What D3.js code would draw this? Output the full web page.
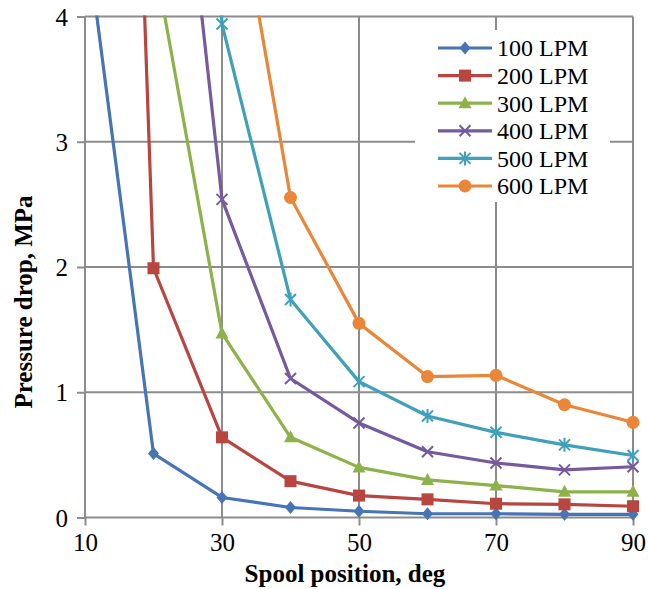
<!DOCTYPE html>
<html>
<head>
<meta charset="utf-8">
<script src="https://cdn.jsdelivr.net/npm/d3@7"></script>
<style>
  body { margin: 0; background: #fff; }
  svg text { font-family: "Liberation Serif", "DejaVu Serif", serif; fill: #000; }
</style>
</head>
<body>
<div id="chart"></div>
<script>
// Spool position (deg) and pressure drop (MPa) per flow rate
const positions = [10, 20, 30, 40, 50, 60, 70, 80, 90];
const seriesNames = ['100 LPM', '200 LPM', '300 LPM', '400 LPM', '500 LPM', '600 LPM'];
const lpm100 = [4.73, 0.51, 0.16, 0.08, 0.05, 0.03, 0.03, 0.025, 0.025];
const lpm200 = [17.6, 1.99, 0.64, 0.29, 0.175, 0.145, 0.11, 0.105, 0.09];
const lpm300 = [null, 4.5, 1.47, 0.64, 0.40, 0.30, 0.255, 0.205, 0.205];
const lpm400 = [null, 7.5, 2.54, 1.11, 0.755, 0.525, 0.435, 0.38, 0.405];
const lpm500 = [null, 14, 3.94, 1.74, 1.085, 0.81, 0.68, 0.58, 0.495];
const lpm600 = [null, null, 5.7, 2.555, 1.55, 1.125, 1.135, 0.90, 0.76];
const xTicks = [10, 30, 50, 70, 90];
const yTicks = [0, 1, 2, 3, 4];

const allSeries = [lpm100, lpm200, lpm300, lpm400, lpm500, lpm600];
const colors = ['#4674B4', '#B8453F', '#8DB24A', '#76599E', '#3FA0BA', '#EA8638'];
const shapes = ['diamond', 'square', 'triangle', 'cross', 'star', 'circle'];

const W = 648, H = 589;
const margin = { left: 85, right: 15, top: 16.5, bottom: 71.5 };

const svg = d3.select('#chart').append('svg')
    .attr('width', W).attr('height', H);

const x = d3.scaleLinear().domain([10, 90]).range([margin.left, W - margin.right]);
const y = d3.scaleLinear().domain([0, 4]).range([H - margin.bottom, margin.top]);

svg.append('clipPath').attr('id', 'plot-clip')
    .append('rect')
    .attr('x', margin.left - 8).attr('y', margin.top - 1)
    .attr('width', W - margin.left - margin.right + 16)
    .attr('height', H - margin.top - margin.bottom + 10);

// Gridlines
const grid = svg.append('g').attr('stroke', '#8c8c8c').attr('stroke-width', 2);
grid.selectAll('.hg').data(yTicks.filter(d => d > 0)).join('line')
    .attr('x1', x(10)).attr('x2', x(90))
    .attr('y1', d => y(d)).attr('y2', d => y(d));
grid.selectAll('.vg').data(xTicks.filter(d => d > 10)).join('line')
    .attr('x1', d => x(d)).attr('x2', d => x(d))
    .attr('y1', y(0)).attr('y2', y(4));

// Axes
const xAxis = svg.append('g')
    .attr('transform', `translate(0,${y(0)})`)
    .call(d3.axisBottom(x).tickValues(xTicks).tickFormat(d3.format('d')).tickSize(8).tickPadding(8));
const yAxis = svg.append('g')
    .attr('transform', `translate(${x(10)},0)`)
    .call(d3.axisLeft(y).tickValues(yTicks).tickFormat(d3.format('d')).tickSize(8).tickPadding(9));
[xAxis, yAxis].forEach(a => {
    a.selectAll('path, line').attr('stroke', '#8c8c8c').attr('stroke-width', 2);
    a.select('.domain').attr('d', a === xAxis
        ? `M${x(10)},0H${x(90)}`
        : `M0,${y(0)}V${y(4)}`);
    a.selectAll('text').attr('font-size', '25px')
        .attr('font-family', '"Liberation Serif", serif').attr('fill', '#000');
});
yAxis.selectAll('text').attr('dy', '0.34em');

// Axis titles
svg.append('text')
    .attr('x', 345).attr('y', 582)
    .attr('text-anchor', 'middle')
    .attr('font-size', '25px').attr('font-weight', 'bold')
    .text('Spool position, deg');
svg.append('text')
    .attr('transform', 'translate(32,302) rotate(-90)')
    .attr('text-anchor', 'middle')
    .attr('font-size', '25px').attr('font-weight', 'bold')
    .text('Pressure drop, MPa');

function drawMarker(g, shape, color) {
    if (shape === 'diamond') {
        g.append('path').attr('d', 'M0,-6.5L5.5,0L0,6.5L-5.5,0Z').attr('fill', color);
    } else if (shape === 'square') {
        g.append('rect').attr('x', -6).attr('y', -6).attr('width', 12).attr('height', 12).attr('fill', color);
    } else if (shape === 'triangle') {
        g.append('path').attr('d', 'M0,-7L6.5,5L-6.5,5Z').attr('fill', color);
    } else if (shape === 'cross') {
        g.append('path').attr('d', 'M-5.5,-5.5L5.5,5.5M-5.5,5.5L5.5,-5.5')
            .attr('stroke', color).attr('stroke-width', 2).attr('fill', 'none');
    } else if (shape === 'star') {
        g.append('path').attr('d', 'M-5.5,-5.5L5.5,5.5M-5.5,5.5L5.5,-5.5M0,-7V7')
            .attr('stroke', color).attr('stroke-width', 2).attr('fill', 'none');
    } else {
        g.append('circle').attr('r', 6.5).attr('fill', color);
    }
}

// Series
const plot = svg.append('g').attr('clip-path', 'url(#plot-clip)');
const line = d3.line()
    .defined(d => d.v !== null)
    .x(d => x(d.p)).y(d => y(d.v));

allSeries.forEach((vals, i) => {
    const pts = positions.map((p, j) => ({ p, v: vals[j] }));
    plot.append('path')
        .datum(pts)
        .attr('d', line)
        .attr('fill', 'none')
        .attr('stroke', colors[i])
        .attr('stroke-width', 3.2)
        .attr('stroke-linejoin', 'round');
    pts.filter(d => d.v !== null && d.v <= 4.1).forEach(d => {
        const g = plot.append('g').attr('transform', `translate(${x(d.p)},${y(d.v)})`);
        drawMarker(g, shapes[i], colors[i]);
    });
});

// Legend
const legend = svg.append('g');
legend.append('rect')
    .attr('x', 415).attr('y', 30).attr('width', 195).attr('height', 172)
    .attr('fill', '#fff');
seriesNames.forEach((name, i) => {
    const ly = 48 + i * 27.6;
    const g = legend.append('g').attr('transform', `translate(0,${ly})`);
    g.append('line').attr('x1', 438).attr('x2', 492).attr('y1', 0).attr('y2', 0)
        .attr('stroke', colors[i]).attr('stroke-width', 3.2);
    const m = g.append('g').attr('transform', 'translate(465,0)');
    drawMarker(m, shapes[i], colors[i]);
    g.append('text').attr('x', 497).attr('y', 0).attr('dy', '0.35em')
        .attr('font-size', '24px').text(name);
});
</script>
</body>
</html>
